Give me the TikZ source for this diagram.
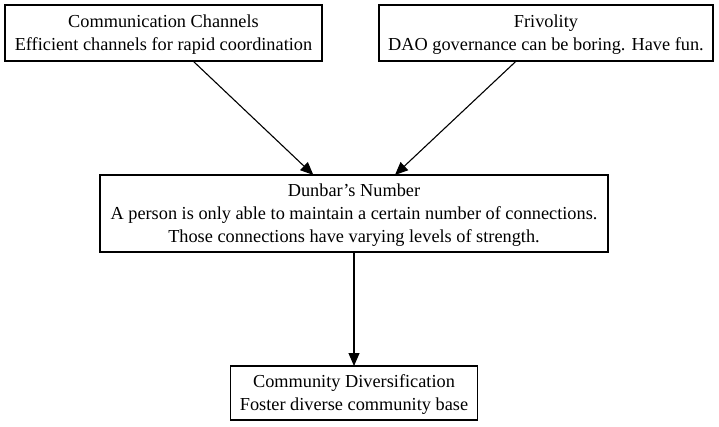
\documentclass[tikz,border=0pt]{standalone}
\usepackage{fontspec}
\setmainfont{Liberation Serif}
\usetikzlibrary{arrows.meta}
\begin{document}
\begin{tikzpicture}[x=1pt,y=-1pt,
  box/.style={draw=black,line width=1.1pt,rectangle,inner sep=0pt,outer sep=0pt,
    align=center,text depth=0pt,font=\fontsize{18.3}{23}\selectfont},
  arr/.style={draw=black,line width=1.1pt,-{Triangle[length=13pt,width=11pt]}}]
\useasboundingbox (0,0) rectangle (719,426);
\node[box,minimum width=317pt,minimum height=56pt] (cc) at (163.5,33)
  {Communication Channels\\Efficient channels for rapid coordination};
\node[box,minimum width=334pt,minimum height=56pt] (fr) at (546,33)
  {Frivolity\\DAO governance can be boring. Have fun.};
\node[box,minimum width=508pt,minimum height=77pt] (dn) at (354,213.5)
  {Dunbar{\char"27}s Number\\A person is only able to maintain a certain number of connections.\\Those connections have varying levels of strength.};
\node[box,minimum width=247pt,minimum height=54pt] (cd) at (354,393)
  {Community Diversification\\Foster diverse community base};
\draw[arr] (cc) -- (dn);
\draw[arr] (fr) -- (dn);
\draw[arr] (dn) -- (cd);
\end{tikzpicture}
\end{document}
